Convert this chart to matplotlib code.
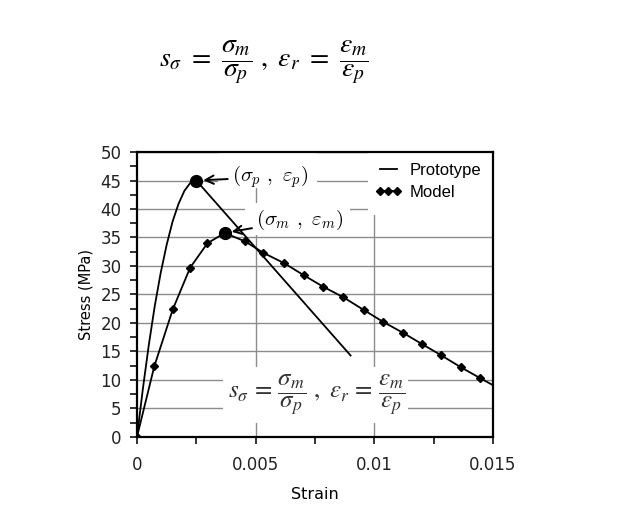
import numpy as np
import matplotlib.pyplot as plt
from matplotlib.patches import Rectangle

##########################################################
# Data
##########################################################

# prototype: rising curve up to the peak, then straight softening branch
proto_strain = [0, 0.00025, 0.0005, 0.00075, 0.001, 0.00125, 0.0015,
                0.00175, 0.002, 0.00225, 0.0025, 0.009]
proto_stress = [0, 8.5, 16.2, 23.0, 28.8, 33.7, 37.8,
                40.9, 43.2, 44.6, 45.0, 14.3]

# model: diamond markers
model_strain = [0, 0.00073, 0.00151, 0.00224, 0.00297, 0.0037,
                0.00456, 0.00533, 0.0062, 0.00702, 0.00783, 0.0087,
                0.00955, 0.01037, 0.0112, 0.01201, 0.01283, 0.01366,
                0.01447, 0.0153]
model_stress = [0, 12.4, 22.4, 29.7, 34.0, 35.8,
                34.3, 32.3, 30.5, 28.4, 26.4, 24.5,
                22.3, 20.2, 18.3, 16.3, 14.3, 12.2,
                10.3, 8.4]

# peak points
peak_p = (0.0025, 45.0)
peak_m = (0.0037, 35.8)

xticks = [0, 0.005, 0.01, 0.015]
xticklabels = ['0', '0.005', '0.01', '0.015']
yticks = np.arange(0, 51, 5)

##########################################################
# Figure
##########################################################
fig = plt.figure(figsize=(6.17, 5.05), dpi=100)
ax = fig.add_axes([0.222, 0.1347, 0.577, 0.5643])

plt.rcParams['font.family'] = ['Liberation Sans', 'DejaVu Sans']

ax.set_xlim(0, 0.015)
ax.set_ylim(0, 50)

ax.set_axisbelow(True)
ax.yaxis.grid(True, color='#8c8c8c', lw=1.0)
ax.set_xticks(xticks)
ax.set_xticklabels(xticklabels)
ax.set_xticks([0.0025, 0.0075, 0.0125], minor=True)
ax.set_yticks(yticks)
ax.set_yticks(np.arange(2.5, 50, 5), minor=True)
for xv in [0.005, 0.01]:
    ax.axvline(xv, color='#8c8c8c', lw=1.0, zorder=0.5)

ax.tick_params(axis='both', which='both', direction='out', length=5,
               width=1.3, labelsize=12, colors='#222222')
ax.tick_params(axis='x', pad=9)
ax.tick_params(axis='y', pad=6)
for s in ax.spines.values():
    s.set_linewidth(1.6)

# white areas behind the labels (hide the grid there)
for (x0, y0, w, h) in [(0.228, 0.874, 0.278, 0.126),
                       (0.303, 0.709, 0.295, 0.112),
                       (0.649, 0.779, 0.351, 0.221),
                       (0.242, 0.049, 0.519, 0.197)]:
    ax.add_patch(Rectangle((x0, y0), w, h, transform=ax.transAxes,
                           facecolor='white', edgecolor='none', zorder=0.8))

ax.plot(proto_strain, proto_stress, 'k-', lw=1.3, label='Prototype', zorder=2)
ax.plot(model_strain, model_stress, 'k-', lw=1.3, marker='D', ms=4,
        markevery=list(range(len(model_strain) - 1)), label='Model', zorder=2)
ax.plot(*peak_p, 'ko', ms=8.5, zorder=3)
ax.plot(*peak_m, 'ko', ms=8.5, zorder=3)

ax.annotate(r'$(\sigma_p\ ,\ \varepsilon_p)$', xy=peak_p, xytext=(0.0040, 45.6),
            fontsize=15, math_fontfamily='cm', va='center', ha='left',
            arrowprops=dict(arrowstyle='->', lw=1.4, color='k',
                            shrinkA=1, shrinkB=5))
ax.annotate(r'$(\sigma_m\ ,\ \varepsilon_m)$', xy=peak_m, xytext=(0.00502, 38.1),
            fontsize=15, math_fontfamily='cm', va='center', ha='left',
            arrowprops=dict(arrowstyle='->', lw=1.4, color='k',
                            shrinkA=1, shrinkB=5))

ax.text(0.505, 0.148,
        r'$s_\sigma\,=\,\dfrac{\sigma_m}{\sigma_p}\ ,\ \varepsilon_r\,=\,\dfrac{\varepsilon_m}{\varepsilon_p}$',
        transform=ax.transAxes, fontsize=18, math_fontfamily='stix',
        ha='center', va='center', color='#333333')

leg = ax.legend(loc='upper left', bbox_to_anchor=(0.65, 0.985), frameon=False,
                fontsize=12, handlelength=1.6, handletextpad=0.5,
                borderaxespad=0, numpoints=3, labelspacing=0.4)

ax.set_xlabel('Strain', fontsize=11.5, labelpad=9)
ax.set_ylabel('Stress (MPa)', fontsize=10.5, labelpad=5)

fig.text(0.427, 0.877,
         r'$s_\sigma\ =\ \dfrac{\sigma_m}{\sigma_p}\ ,\ \varepsilon_r\ =\ \dfrac{\varepsilon_m}{\varepsilon_p}$',
         fontsize=20, math_fontfamily='stix', ha='center', va='center')

plt.savefig('out.png', dpi=100)
